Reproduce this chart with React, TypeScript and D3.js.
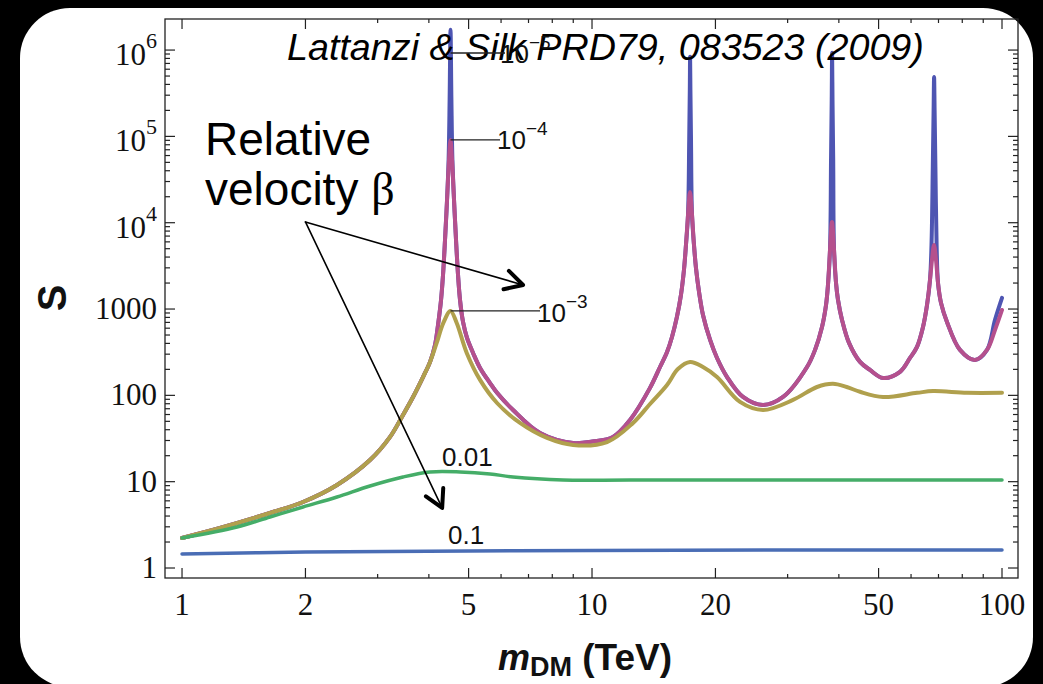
import React from "react";
import * as d3 from "d3";

const W = 1043;
const H = 684;

// Sommerfeld enhancement S versus dark-matter mass m_DM (TeV), one curve per relative velocity beta.
// Each entry is [m_DM in TeV, S].
const BETA_1E5: [number, number][] = [
  [1.0, 2.23], [1.238, 2.91], [1.639, 4.34], [1.973, 5.82], [2.388, 9.16], [2.874, 17.8],
  [3.217, 33.0], [3.459, 59.3], [3.66, 95.8], [3.871, 163], [4.027, 244], [4.141, 384],
  [4.211, 654], [4.283, 1275], [4.331, 2484], [4.38, 6320], [4.43, 18380], [4.469, 53420],
  [4.4945, 264800], [4.5173, 1714000], [4.54, 264800], [4.5656, 53420], [4.607, 18380],
  [4.659, 6320], [4.712, 2484], [4.765, 1275], [4.846, 709], [4.956, 463], [5.127, 310],
  [5.332, 208], [5.639, 139], [5.866, 107], [6.418, 67.7], [7.467, 36.7], [8.99, 28.1],
  [10.02, 29.2], [11.25, 33.0], [12.38, 51.9], [13.85, 122], [14.65, 213],
  [15.24, 318], [15.67, 475], [16.11, 810], [16.48, 1460], [16.76, 2840], [16.95, 5530],
  [17.145, 12300], [17.261, 91070], [17.319, 345900], [17.348, 834000], [17.378, 345900],
  [17.436, 91070], [17.535, 12300], [17.73, 5530], [17.93, 2990], [18.24, 1580],
  [18.65, 854], [19.41, 438], [20.18, 271], [21.35, 163], [23.35, 95.8], [26.13, 77.4],
  [29.24, 95.8], [33.45, 213], [34.99, 336], [36.39, 620], [37.22, 1115], [37.63, 1900],
  [38.06, 4840], [38.281, 53420], [38.427, 264800], [38.514, 928500], [38.601, 264800],
  [38.752, 53420], [38.93, 4840], [39.37, 2000], [39.81, 1275], [40.72, 748], [42.35, 405],
  [45.05, 244], [47.64, 197], [51.26, 159], [56.39, 187], [59.65, 271], [62.04, 364],
  [64.17, 620], [65.63, 1115], [66.74, 2174], [67.305, 5530], [67.798, 44330],
  [68.104, 202800], [68.295, 489000], [68.487, 202800], [68.795, 44330], [69.261, 5530],
  [69.81, 2006], [70.99, 1177], [73.42, 709], [78.98, 336], [85.93, 257], [91.92, 336],
  [96.14, 748], [100, 1345],
];

const BETA_1E4: [number, number][] = [
  [1.0, 2.23], [1.238, 2.91], [1.639, 4.34], [1.973, 5.82], [2.388, 9.16], [2.874, 17.8],
  [3.217, 33.0], [3.459, 59.3], [3.66, 95.8], [3.871, 163], [4.027, 244], [4.141, 384],
  [4.211, 654], [4.283, 1275], [4.331, 2484], [4.38, 6320], [4.43, 18380], [4.479, 53420],
  [4.517, 91070], [4.556, 53420], [4.607, 18380], [4.659, 6320], [4.712, 2484],
  [4.765, 1275], [4.846, 709], [4.956, 463], [5.127, 310], [5.332, 208], [5.639, 139],
  [5.866, 107], [6.418, 67.7], [7.467, 36.7], [8.99, 28.1], [10.02, 29.2], [11.25, 33.0],
  [12.38, 51.9], [13.85, 122], [14.65, 213], [15.24, 318], [15.67, 475],
  [16.11, 810], [16.48, 1460], [16.76, 2840], [16.95, 5530], [17.145, 12300],
  [17.338, 22750], [17.535, 12300], [17.73, 5530], [17.93, 2990], [18.24, 1580],
  [18.65, 854], [19.41, 438], [20.18, 271], [21.35, 163], [23.35, 95.8], [26.13, 77.4],
  [29.24, 95.8], [33.45, 213], [34.99, 336], [36.39, 620], [37.22, 1115], [37.63, 1900],
  [38.06, 4840], [38.49, 10200], [38.93, 4840], [39.37, 2000], [39.81, 1275], [40.72, 748],
  [42.35, 405], [45.05, 244], [47.64, 197], [51.26, 159], [56.39, 187], [59.65, 271],
  [62.04, 364], [64.17, 620], [65.63, 1115], [66.74, 2174], [67.49, 3707], [68.26, 5530],
  [69.03, 3707], [69.81, 2006], [70.99, 1177], [73.42, 709], [78.98, 336], [85.93, 257],
  [91.92, 336], [96.14, 572], [100, 976],
];

const BETA_1E3: [number, number][] = [
  [1.0, 2.23], [1.238, 2.91], [1.639, 4.34], [1.973, 5.82], [2.388, 9.16], [2.874, 17.8],
  [3.217, 33.0], [3.459, 59.3], [3.66, 95.8], [3.871, 163], [4.027, 244], [4.18, 405],
  [4.339, 690], [4.517, 951], [4.677, 690], [4.948, 310], [5.332, 151], [5.866, 81.6],
  [6.674, 47.9], [7.768, 32.1], [8.99, 26.6], [10.88, 28.8], [12.59, 47.9], [13.85, 79.5],
  [15.24, 132], [16.2, 202], [17.34, 244], [18.65, 213], [20.18, 163], [22.96, 83.9],
  [26.13, 67.7], [30.92, 88.5], [35.38, 125], [38.7, 136], [41.8, 125], [45.05, 110],
  [51.26, 95.8], [62.04, 107], [67.88, 112], [82.16, 107], [100, 107],
];

const BETA_1E2: [number, number][] = [
  [1.0, 2.23], [1.362, 2.99], [1.639, 3.9], [1.973, 5.09], [2.388, 6.65], [2.874, 8.92],
  [3.459, 11.34], [4.027, 12.95], [4.765, 12.95], [5.639, 12.28], [6.418, 11.34],
  [8.497, 10.46], [12.38, 10.46], [32.16, 10.46], [100, 10.46],
];

const BETA_1E1: [number, number][] = [
  [1.0, 1.45], [2.0, 1.53], [5.0, 1.57], [10.0, 1.6], [100, 1.62],
];

const X_MAJOR = [1, 2, 5, 10, 20, 50, 100];
const X_MINOR = [3, 4, 6, 7, 8, 9, 30, 40, 60, 70, 80, 90];
const Y_MAJOR = [1, 10, 100, 1000, 1e4, 1e5, 1e6];
const Y_LABEL_BASE = ["1", "10", "100", "1000", "10", "10", "10"];
const Y_LABEL_EXP = ["", "", "", "", "4", "5", "6"];

const X_MIN = 0.9088;
const X_MAX = 109.4;
const Y_MIN = 0.766;
const Y_MAX = 2.29e6;

const SANS = "'Liberation Sans', Arial, Helvetica, sans-serif";
const SERIF = "'Liberation Serif', 'Times New Roman', Times, serif";

export default function App() {
  const left = 165;
  const right = 1018;
  const top = 19;
  const bottom = 578;

  const x = d3.scaleLog().domain([X_MIN, X_MAX]).range([left, right]);
  const y = d3.scaleLog().domain([Y_MIN, Y_MAX]).range([bottom, top]);
  const line = d3
    .line<[number, number]>()
    .x((d) => x(d[0]))
    .y((d) => y(d[1]))
    .curve(d3.curveCatmullRom.alpha(0.5));

  const yMinor: number[] = [];
  for (let k = 0; k < 6; k++) {
    for (let j = 2; j <= 9; j++) yMinor.push(j * Math.pow(10, k));
  }

  const series = [
    { data: BETA_1E5, color: "#4E55B2", width: 4 },
    { data: BETA_1E4, color: "#B5508D", width: 4 },
    { data: BETA_1E3, color: "#B0A04D", width: 4 },
    { data: BETA_1E2, color: "#45AD68", width: 3.5 },
    { data: BETA_1E1, color: "#4A6DB5", width: 3.5 },
  ];

  // arrows from the "Relative velocity" note (data coordinates)
  const arrowFrom: [number, number] = [2.0, 10200];
  const arrowTo: [number, number][] = [
    [6.79, 1900],
    [4.31, 4.96],
  ];
  const head = (x0: number, y0: number, x1: number, y1: number) => {
    const a = Math.atan2(y1 - y0, x1 - x0);
    const L = 20;
    const s = 0.5;
    const p1 = [x1 - L * Math.cos(a - s), y1 - L * Math.sin(a - s)];
    const p2 = [x1 - L * Math.cos(a + s), y1 - L * Math.sin(a + s)];
    return `M${p1[0]},${p1[1]}L${x1},${y1}L${p2[0]},${p2[1]}`;
  };

  const labelFont = { fontFamily: SANS, fontSize: 26, fill: "#111" } as const;

  return (
    <svg
      width={W}
      height={H}
      style={{ position: "fixed", left: 0, top: 0, display: "block" }}
    >
      <rect x={0} y={0} width={W} height={H} fill="#000" />
      <rect x={20} y={8} width={1013} height={679} rx={50} ry={50} fill="#fff" />

      <defs>
        <clipPath id="plot-area">
          <rect x={left} y={top} width={right - left} height={bottom - top} />
        </clipPath>
      </defs>

      {/* curves */}
      <g clipPath="url(#plot-area)" fill="none" strokeLinejoin="round" strokeLinecap="round">
        {series.map((s, i) => (
          <path key={i} d={line(s.data) ?? ""} stroke={s.color} strokeWidth={s.width} />
        ))}
      </g>

      {/* frame */}
      <rect
        x={left}
        y={top}
        width={right - left}
        height={bottom - top}
        fill="none"
        stroke="#222"
        strokeWidth={1.3}
      />

      {/* ticks */}
      <g stroke="#222" strokeWidth={1.2}>
        {X_MAJOR.map((t) => (
          <g key={"xM" + t}>
            <line x1={x(t)} x2={x(t)} y1={bottom} y2={bottom - 10} />
            <line x1={x(t)} x2={x(t)} y1={top} y2={top + 10} />
          </g>
        ))}
        {X_MINOR.map((t) => (
          <g key={"xm" + t}>
            <line x1={x(t)} x2={x(t)} y1={bottom} y2={bottom - 4} />
            <line x1={x(t)} x2={x(t)} y1={top} y2={top + 4} />
          </g>
        ))}
        {Y_MAJOR.map((t) => (
          <g key={"yM" + t}>
            <line x1={left} x2={left + 10} y1={y(t)} y2={y(t)} />
            <line x1={right} x2={right - 10} y1={y(t)} y2={y(t)} />
          </g>
        ))}
        {yMinor.map((t) => (
          <g key={"ym" + t}>
            <line x1={left} x2={left + 5} y1={y(t)} y2={y(t)} />
            <line x1={right} x2={right - 5} y1={y(t)} y2={y(t)} />
          </g>
        ))}
      </g>

      {/* tick labels */}
      <g fontFamily={SERIF} fontSize={31} fill="#111">
        {X_MAJOR.map((t) => (
          <text key={"xl" + t} x={x(t)} y={615} textAnchor="middle">
            {t}
          </text>
        ))}
        {Y_MAJOR.map((t, i) =>
          Y_LABEL_EXP[i] ? (
            <text key={"yl" + t} x={157} y={y(t) + 15} textAnchor="end">
              {Y_LABEL_BASE[i]}
              <tspan fontSize={22} dy={-17}>
                {Y_LABEL_EXP[i]}
              </tspan>
            </text>
          ) : (
            <text key={"yl" + t} x={157} y={y(t) + 10} textAnchor="end">
              {Y_LABEL_BASE[i]}
            </text>
          )
        )}
      </g>

      {/* axis titles */}
      <text
        transform="translate(66,298) rotate(-90)"
        textAnchor="middle"
        fontFamily={SANS}
        fontWeight="bold"
        fontSize={40}
        fill="#111"
      >
        S
      </text>
      <text x={498} y={670} fontFamily={SANS} fontWeight="bold" fontSize={37} fill="#111">
        <tspan fontStyle="italic" fontSize={36}>m</tspan>
        <tspan fontSize={27} dy={6}>DM</tspan>
        <tspan dy={-6}> (TeV)</tspan>
      </text>

      {/* citation */}
      <text x={287} y={60} fontFamily={SANS} fontStyle="italic" fontSize={37.7} fill="#000">
        Lattanzi &amp; Silk PRD79, 083523 (2009)
      </text>

      {/* velocity labels with leader lines */}
      <g stroke="#222" strokeWidth={1.3}>
        <line x1={x(4.517)} x2={505} y1={53} y2={53} />
        <line x1={x(4.517)} x2={500} y1={y(91070)} y2={y(91070)} />
        <line x1={x(4.517)} x2={540} y1={y(951)} y2={y(951)} />
      </g>
      <text x={500} y={63} {...labelFont}>
        10<tspan fontSize={19} dy={-14}>−5</tspan>
      </text>
      <text x={497} y={149} {...labelFont}>
        10<tspan fontSize={19} dy={-14}>−4</tspan>
      </text>
      <text x={537} y={322} {...labelFont}>
        10<tspan fontSize={19} dy={-14}>−3</tspan>
      </text>
      <text x={442} y={466} {...labelFont}>0.01</text>
      <text x={448} y={544} {...labelFont}>0.1</text>

      {/* note */}
      <text fontFamily={SANS} fontSize={46} fill="#000">
        <tspan x={205} y={155}>Relative</tspan>
        <tspan x={205} y={205}>
          velocity <tspan fontFamily={SERIF}>β</tspan>
        </tspan>
      </text>

      {/* arrows */}
      <g stroke="#000" fill="none" strokeLinecap="round" strokeLinejoin="round">
        {arrowTo.map((p, i) => {
          const x0 = x(arrowFrom[0]);
          const y0 = y(arrowFrom[1]);
          const x1 = x(p[0]);
          const y1 = y(p[1]);
          return (
            <g key={"ar" + i}>
              <line x1={x0} y1={y0} x2={x1} y2={y1} strokeWidth={1.6} />
              <path d={head(x0, y0, x1, y1)} strokeWidth={4} />
            </g>
          );
        })}
      </g>
    </svg>
  );
}
